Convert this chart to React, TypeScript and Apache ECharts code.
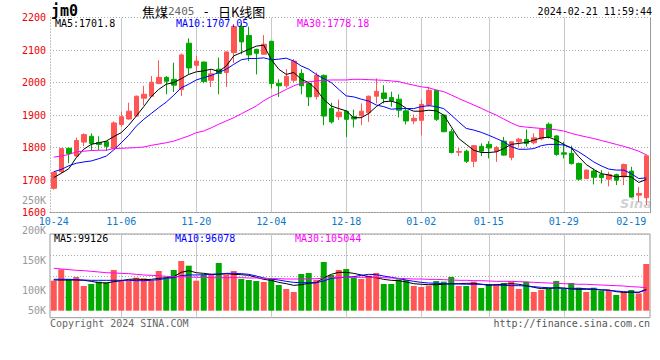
import React, { useEffect, useRef } from 'react';
import * as echarts from 'echarts';

// ---- data ----
const dates = [
  '10-24','10-25','10-26','10-27','10-30','10-31',
  '11-01','11-02','11-03','11-06','11-07','11-08','11-09','11-10','11-13','11-14','11-15','11-16','11-17','11-20','11-21','11-22','11-23','11-24','11-27','11-28','11-29','11-30',
  '12-01','12-04','12-05','12-06','12-07','12-08','12-11','12-12','12-13','12-14','12-15','12-18','12-19','12-20','12-21','12-22','12-25','12-26','12-27','12-28','12-29',
  '01-02','01-03','01-04','01-05','01-08','01-09','01-10','01-11','01-12','01-15','01-16','01-17','01-18','01-19','01-22','01-23','01-24','01-25','01-26','01-29','01-30','01-31',
  '02-01','02-02','02-05','02-06','02-07','02-08','02-19','02-20','02-21',
];
const labelDates = ['10-24','11-06','11-20','12-04','12-18','01-02','01-15','01-29','02-19'];
const gridDates = ['11-06','11-20','12-04','12-18','01-02','01-15','01-29'];

const opens = [1675,1726,1798,1774,1817,1835,1816,1818,1797,1871, 1888,1897,1952,1958,1997,2016,2010,1979,2121,2053, 2063,2007,2041,2031,2092,2172,2145,2102,2087,2127, 1998,1990,2007,2028,1997,1957,2022,1920,1895,1912, 1895,1898,1907,1958,1968,1954,1949,1913,1882,1884, 1931,1976,1900,1849,1786,1789,1758,1804,1810,1789, 1820,1770,1818,1825,1815,1827,1872,1836,1784,1782, 1751,1705,1728,1717,1703,1717,1710,1728,1654,1646];
const closes = [1724,1797,1782,1822,1840,1813,1810,1804,1876,1895, 1912,1958,1964,2001,2016,2004,1992,2085,2045,2066, 2003,2027,2028,2094,2172,2125,2085,2090,2118,1997, 1990,2019,2066,1990,1956,2022,1897,1879,1909,1887, 1888,1912,1958,1973,1951,1944,1915,1882,1890,1933, 1976,1887,1849,1785,1788,1758,1806,1789,1799,1800, 1777,1818,1826,1813,1830,1857,1833,1779,1780,1751, 1703,1731,1709,1708,1717,1700,1748,1648,1659,1775];
const lows = [1671,1722,1752,1772,1805,1790,1792,1790,1795,1864, 1886,1895,1930,1955,1995,1964,1971,1959,2025,2036, 1998,1986,1964,1986,2060,2087,2066,2025,2086,1982, 1956,1984,2000,1964,1928,1948,1869,1874,1885,1833, 1862,1869,1879,1936,1936,1926,1893,1871,1872,1838, 1926,1882,1847,1782,1774,1753,1740,1774,1767,1756, 1775,1761,1803,1803,1810,1823,1828,1775,1767,1748, 1698,1703,1687,1690,1681,1685,1685,1646,1633,1623];
const highs = [1726,1799,1800,1831,1844,1844,1835,1820,1881,1910, 1938,1960,1990,2020,2068,2020,2061,2089,2136,2082, 2065,2041,2077,2096,2180,2182,2172,2104,2146,2128, 2010,2041,2072,2041,2000,2031,2025,1938,1948,1913, 1917,1936,1960,2013,1992,1972,1964,1920,1902,1948, 1987,1978,1901,1857,1799,1794,1808,1813,1820,1805, 1833,1820,1830,1856,1844,1859,1877,1838,1818,1806, 1754,1733,1736,1731,1726,1720,1751,1741,1679,1779];

const ma5 = [1708,1721,1735,1769,1795,1810,1815,1820,1834,1846, 1869,1897,1926,1957,1979,1995,2000,2012,2025,2033, 2036,2041,2034,2051,2082,2092,2102,2112,2115,2071, 2041,2025,2031,2010,2000,1979,1948,1928,1920,1913, 1892,1892,1905,1926,1941,1943,1936,1921,1912,1912, 1915,1913,1900,1864,1828,1810,1792,1785,1785,1787, 1797,1810,1813,1816,1823,1830,1832,1823,1810,1799, 1772,1748,1733,1720,1716,1710,1712,1710,1693,1702];
const ma10 = [1726,1733,1744,1752,1756,1759,1766,1774,1793,1815, 1838,1866,1887,1905,1923,1940,1961,1984,1995,2008, 2015,2022,2031,2041,2056,2070,2074,2074,2076,2070, 2072,2075,2066,2051,2041,2025,2012,2000,1979,1959, 1956,1949,1943,1931,1926,1918,1920,1920,1920,1926, 1929,1926,1920,1900,1879,1859,1854,1847,1838,1828, 1818,1803,1795,1795,1797,1806,1810,1810,1808,1799, 1787,1772,1756,1744,1734,1731,1731,1720,1705,1707];
const ma30 = [1771,1774,1779,1787,1789,1791,1792,1792,1797,1798, 1799,1800,1802,1807,1811,1815,1820,1828,1836,1846, 1851,1861,1872,1882,1892,1904,1916,1928,1944,1957, 1967,1979,1990,1998,2002,2005,2007,2008,2008,2008, 2010,2010,2009,2008,2007,2005,2003,1997,1992,1987, 1984,1977,1972,1962,1951,1941,1931,1921,1910,1900, 1888,1876,1866,1863,1861,1859,1857,1855,1851,1844, 1838,1833,1828,1822,1816,1810,1804,1797,1789,1778];

const volumes = [116700,135600,119500,122800,107800,111200,115100,113900,134500,116700, 116700,121700,120600,116700,132800,120600,134500,149500,141700,116700, 126200,127800,146200,127200,132800,119500,117800,116100,114500,119500, 109500,102800,97800,127800,129500,117800,147800,126200,134500,136200, 121700,119500,125000,129500,111200,111200,118900,117800,107800,106100, 108300,116100,115100,122800,107800,107800,115100,104500,111200,111200, 112800,115100,102800,115100,97800,101200,102800,116100,102800,112800, 105000,97800,105000,100000,101200,92800,97800,101200,95600,144500];
const volMa5 = [117800,117800,117800,117800,117300,115600,113400,112800,115000,116700, 118900,119500,118400,118900,120600,121700,123400,130600,133400,130000, 128900,127300,127300,128400,127300,126700,125600,122300,118900,117300, 113900,111700,108900,110000,112300,113400,121200,127300,130600,130600, 128900,126200,123400,121700,118900,117300,116700,114500,111700,110700, 110000,110000,110700,111700,111700,112300,112300,110700,108900,110000, 110700,111700,110700,108400,105600,103400,103400,105000,104500,102800, 102300,102300,102300,101200,101200,98400,97300,97300,97300,102300];
const volMa10 = [119000,119000,119000,118400,117800,117300,117300,117300,117300,117300, 117300,116700,116700,117300,118400,120600,121700,125000,126200,126200, 126700,127300,127800,128900,128900,128400,127300,124500,121200,119500, 117800,115600,113900,113400,113400,113400,116200,120600,121700,122300, 123400,125600,127300,126700,124500,122300,120100,117800,115600,113900, 112800,112300,111700,111200,111200,110700,110700,110700,110000,109500, 108900,108400,108400,107800,106700,105600,105000,104500,103900,103900, 103900,103400,102800,101700,100600,99500,98400,97800,97300,101200];
const volMa30 = [137300,136200,135100,134000,133400,132300,131200,130000,129500,128900, 128400,127300,126200,125600,125000,123900,123400,123400,122800,122300, 122300,121700,121700,121700,121700,121700,121200,121200,120600,120100, 120100,119500,119500,119500,119500,120100,120600,121700,122300,122300, 122300,122300,122300,121700,121700,121200,120600,120100,119500,119500, 118900,118900,118400,117800,117300,117300,116700,116700,116200,115600, 115600,115600,115100,114500,113900,113400,112800,112300,111700,111200, 110700,110700,110000,109500,108900,108400,107800,106700,106100,105000];

const volTickValues = [250000, 200000, 150000, 100000, 50000];
const volTickLabels = ['250K', '200K', '150K', '100K', '50K'];

const symbolText = 'jm0';
const titleName = '焦煤';
const titleCode = '2405';
const titleDash = ' - ';
const titleKind = '日K线图';
const timestamp = '2024-02-21 11:59:44';
const priceMaLabels = ['MA5:1701.8', 'MA10:1707.05', 'MA30:1778.18'];
const volMaLabels = ['MA5:99126', 'MA10:96078', 'MA30:105044'];
const copyrightText = 'Copyright 2024 SINA.COM';
const urlText = 'http://finance.sina.com.cn';

export default function App() {
  const ref = useRef<HTMLDivElement>(null);

  useEffect(() => {
    const chart = echarts.init(ref.current as HTMLDivElement, null, { renderer: 'svg' });
    const mono = '"DejaVu Sans Mono", monospace';
    const UP = '#ff5555';
    const DOWN = '#00a800';
    const gridColor = '#aaaaaa';
    const vColor = '#c8c8c8';
    const maColors = ['#000000', '#0000ff', '#ff00ff'];
    const priceMin = 1600;
    const priceMax = 2200;
    const volMin = 66667;
    const volMax = 194500;

    const candleData = dates.map((_, i) => [opens[i], closes[i], lows[i], highs[i]]);
    const volData = volumes.map((v, i) => ({
      value: v,
      itemStyle: { color: closes[i] >= opens[i] ? UP : DOWN },
    }));
    const isLabel = (_i: number, v: string) => labelDates.includes(v);
    const gridIdx = gridDates.map((d) => dates.indexOf(d));

    const lineSeries = (data: number[], color: string, xi: number, yi: number) => ({
      type: 'line',
      xAxisIndex: xi,
      yAxisIndex: yi,
      data,
      symbol: 'none',
      silent: true,
      z: 4,
      lineStyle: { width: 1, color },
      itemStyle: { color },
    });

    chart.setOption({
      animation: false,
      backgroundColor: '#ffffff',
      grid: [
        { left: 50, top: 17.5, width: 600, height: 195.2, show: false },
        { left: 50, top: 234, width: 600, height: 76.7, show: false },
        { left: 50, top: 234, width: 600, height: 83.7, show: true, borderColor: '#999999', borderWidth: 1, backgroundColor: 'transparent' },
      ],
      xAxis: [
        {
          type: 'category', gridIndex: 0, data: dates, boundaryGap: true,
          axisLine: { show: true, lineStyle: { color: '#999999', type: [2, 1], width: 1 } },
          axisTick: { show: false },
          axisLabel: { interval: isLabel, color: '#0a78c8', fontFamily: mono, fontSize: 10, margin: 4, hideOverlap: false },
          splitLine: { show: false },
        },
        { type: 'category', gridIndex: 1, data: dates, boundaryGap: true, show: false },
        {
          type: 'category', gridIndex: 2, data: dates, boundaryGap: true,
          axisLine: { show: false }, axisTick: { show: false }, axisLabel: { show: false },
          splitLine: { show: false },
        },
      ],
      yAxis: [
        {
          type: 'value', gridIndex: 0, min: priceMin, max: priceMax, interval: 100,
          axisLine: { show: true, lineStyle: { color: '#bbbbbb', type: [1, 2] } },
          axisTick: { show: false },
          axisLabel: { color: '#ee0000', fontFamily: mono, fontSize: 10, margin: 4, padding: [0, 0, 3, 0], formatter: (v: number) => String(v) },
          splitLine: { show: true, lineStyle: { color: gridColor, type: [1, 2], width: 1 } },
        },
        {
          type: 'value', gridIndex: 0, position: 'right', min: priceMin, max: priceMax,
          axisLine: { show: true, lineStyle: { color: '#999999' } },
          axisTick: { show: false }, axisLabel: { show: false }, splitLine: { show: false },
        },
        { type: 'value', gridIndex: 1, min: volMin, max: volMax, show: false, splitLine: { show: false } },
        {
          type: 'value', gridIndex: 2, min: 0, max: 4, interval: 1,
          axisLine: { show: false }, axisTick: { show: false }, axisLabel: { show: false },
          splitLine: { show: true, lineStyle: { color: gridColor, type: [1, 2], width: 1 } },
        },
      ],
      series: [
        {
          type: 'candlestick', xAxisIndex: 0, yAxisIndex: 0, data: candleData, barWidth: 5, silent: true,
          itemStyle: { color: UP, color0: DOWN, borderColor: UP, borderColor0: DOWN, borderWidth: 1 },
        },
        lineSeries(ma5, maColors[0], 0, 0),
        lineSeries(ma10, maColors[1], 0, 0),
        lineSeries(ma30, maColors[2], 0, 0),
        { type: 'bar', xAxisIndex: 1, yAxisIndex: 2, data: volData, barWidth: 6, silent: true },
        lineSeries(volMa5, maColors[0], 1, 2),
        lineSeries(volMa10, maColors[1], 1, 2),
        lineSeries(volMa30, maColors[2], 1, 2),
      ],
    });

    // vertical grid lines at the labelled dates, in both panels, placed through the axes' own scales
    const pTop = chart.convertToPixel({ yAxisIndex: 0 }, priceMax) as number;
    const pBot = chart.convertToPixel({ yAxisIndex: 0 }, priceMin) as number;
    const vTop = chart.convertToPixel({ yAxisIndex: 3 }, 4) as number;
    const vBot = chart.convertToPixel({ yAxisIndex: 3 }, 0) as number;
    const vLineEls: any[] = [];
    gridIdx.forEach((i) => {
      const x = Math.round(Number(chart.convertToPixel({ xAxisIndex: 0 }, i))) + 0.5;
      [[pTop, pBot], [vTop, vBot]].forEach(([a, b]) => {
        vLineEls.push({
          type: 'line',
          shape: { x1: x, y1: a, x2: x, y2: b },
          style: { stroke: vColor, lineWidth: 1 },
        });
      });
    });

    const basePx = chart.convertToPixel({ yAxisIndex: 2 }, volMin) as number;
    const volLabelEls = volTickValues.map((v, k) => {
      const py = chart.convertToPixel({ yAxisIndex: 2 }, v) as number;
      return {
        type: 'text', x: 46, y: Math.min(py, basePx), silent: true, z: 10,
        style: { text: volTickLabels[k], fill: '#999999', fontSize: 10, fontFamily: mono, align: 'right', verticalAlign: 'middle' },
      };
    });

    const txt = (text: string, x: number, y: number, fill: string, extra: any = {}) => ({
      type: 'text', x, y, silent: true, z: 10,
      style: { text, fill, fontSize: 10, fontFamily: mono, align: 'left', verticalAlign: 'middle', ...extra },
    });

    chart.setOption({
      graphic: [
        ...vLineEls,
        txt(symbolText, 51, 11, '#000000', { fontSize: 15, fontWeight: 'bold' }),
        {
          type: 'text', x: 142, y: 11, silent: true, z: 10,
          style: {
            text: `{a|${titleName}}{b|${titleCode}}{c|${titleDash}}{a|${titleKind}}`,
            verticalAlign: 'middle',
            rich: {
              a: { fontSize: 13, fontFamily: '"Noto Sans CJK SC"', fill: '#000000', color: '#000000' },
              b: { fontSize: 11, fontFamily: mono, fill: '#666666', color: '#666666' },
              c: { fontSize: 13, fontFamily: mono, fill: '#000000', color: '#000000' },
            },
          },
        },
        txt(timestamp, 652, 11.5, '#000000', { align: 'right' }),
        txt(priceMaLabels[0], 55, 23.5, maColors[0]),
        txt(priceMaLabels[1], 176, 23.5, maColors[1]),
        txt(priceMaLabels[2], 297, 23.5, maColors[2]),
        txt(volMaLabels[0], 54, 238, maColors[0]),
        txt(volMaLabels[1], 175, 238, maColors[1]),
        txt(volMaLabels[2], 295, 238, maColors[2]),
        txt(copyrightText, 50, 323.5, '#666666'),
        txt(urlText, 650, 323.5, '#555555', { align: 'right' }),
        txt('Sina', 636, 203, 'rgba(150,150,150,0.45)', { fontSize: 13, fontWeight: 'bold', fontStyle: 'italic', fontFamily: '"DejaVu Sans"', align: 'center' }),
        ...volLabelEls,
      ],
    });

    return () => chart.dispose();
  }, []);

  return (
    <div
      ref={ref}
      style={{ position: 'fixed', left: 0, top: 0, width: 660, height: 360, background: '#ffffff' }}
    />
  );
}
